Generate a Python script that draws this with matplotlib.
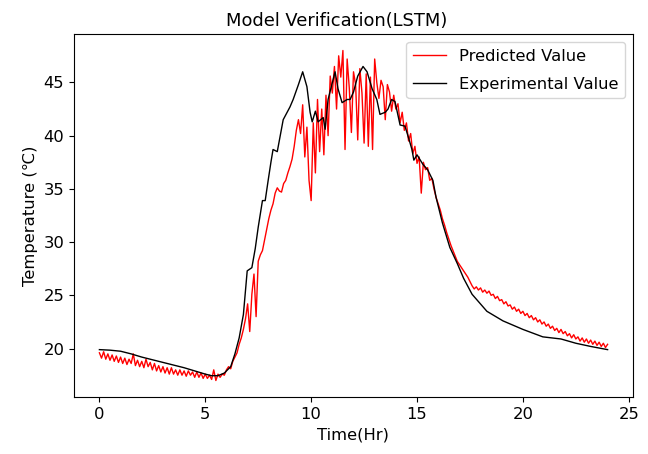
import numpy as np
import matplotlib
matplotlib.use("Agg")
import matplotlib.pyplot as plt

# Experimental (measured) temperature, hours vs degC
exp_time = [0, 0.5, 1, 1.5, 2, 2.5, 3, 3.5, 4, 4.5, 5, 5.3, 5.6, 5.9, 6.2, 6.4, 6.6, 6.8,
            6.98, 7.2, 7.36, 7.5, 7.7, 7.83, 7.97, 8.1, 8.2, 8.4, 8.68, 9.0, 9.15, 9.4,
            9.6, 9.8, 9.95, 10.05, 10.2, 10.33, 10.57, 10.66, 10.8, 11.13, 11.27, 11.46,
            11.7, 11.84, 12.0, 12.2, 12.45, 12.64, 12.88, 13.1, 13.25, 13.5, 13.63, 13.8,
            13.96, 14.2, 14.43, 14.6, 14.76, 14.85, 15.0, 15.28, 15.5, 15.75, 15.9, 16.2,
            16.55, 16.9, 17.2, 17.6, 18.3, 19.06, 20.0, 20.94, 21.8, 22.5, 23.2, 24.0]
exp_temp = [19.9, 19.85, 19.75, 19.5, 19.2, 18.95, 18.7, 18.45, 18.2, 17.9, 17.6, 17.45,
            17.45, 17.7, 18.3, 19.5, 21.0, 23.2, 27.3, 27.6, 29.4, 31.4, 33.9, 33.9, 35.8,
            37.5, 38.7, 38.5, 41.5, 42.7, 43.4, 44.8, 46.0, 44.6, 42.2, 41.3, 42.3, 41.3,
            41.7, 40.6, 43.4, 46.0, 44.4, 43.1, 43.4, 43.4, 44.1, 45.6, 46.5, 46.0, 44.4,
            43.4, 42.0, 42.2, 42.5, 43.4, 43.2, 41.0, 40.9, 39.8, 38.7, 37.7, 38.2, 37.3,
            36.8, 35.8, 34.2, 31.8, 29.5, 28.0, 26.6, 25.1, 23.5, 22.6, 21.8, 21.1, 20.9,
            20.5, 20.2, 19.9]

# Predicted (LSTM) temperature, one value every 0.1 h from 0 to 24 h
pred_temp = [
    19.6, 19.1, 19.7, 19.0, 19.5, 18.9, 19.4, 18.8, 19.3, 18.7,
    19.2, 18.6, 19.1, 18.5, 19.0, 18.6, 19.5, 18.4, 18.9, 18.3,
    18.8, 18.2, 19.0, 18.3, 18.7, 18.0, 18.6, 17.9, 18.4, 17.8,
    18.3, 17.7, 18.2, 17.6, 18.2, 17.6, 18.0, 17.5, 18.0, 17.5,
    17.9, 17.4, 17.9, 17.5, 17.8, 17.3, 17.8, 17.3, 17.7, 17.2,
    17.6, 17.2, 17.5, 17.1, 18.0, 17.0, 17.6, 17.3, 17.6, 17.5,
    18.0, 18.3, 18.1, 18.8, 19.2, 19.6, 20.4, 21.0, 21.8, 22.8,
    24.2, 21.6, 25.1, 27.0, 23.0, 28.2, 28.8, 29.2, 30.2, 31.2,
    32.2, 33.0, 33.6, 34.6, 35.1, 34.8, 34.7, 35.5, 35.8, 36.5,
    37.1, 37.8, 39.0, 40.5, 41.5, 40.2, 42.9, 38.0, 40.8, 35.8,
    33.9, 41.2, 36.5, 43.4, 38.5, 42.5, 38.2, 43.8, 40.0, 45.6,
    44.0, 46.5, 42.5, 47.5, 45.5, 48.0, 38.7, 47.2, 44.5, 40.3,
    46.0, 44.8, 39.6, 46.3, 44.0, 39.3, 45.8, 39.0, 45.5, 38.7,
    47.2, 45.0, 43.5, 45.2, 44.6, 41.5, 44.8, 44.1, 42.3, 43.8,
    42.5, 43.0, 41.2, 42.2, 40.5, 41.2, 39.5, 40.2, 38.3, 39.0,
    37.4, 38.0, 34.6, 37.5, 36.8, 37.0, 35.8, 36.0, 35.0, 34.2,
    33.6, 33.0, 32.2, 31.6, 30.9, 30.3, 29.7, 29.2, 28.7, 28.2,
    27.9, 27.6, 27.3, 27.0, 26.7, 26.3, 25.9, 25.6, 25.8, 25.5,
    25.7, 25.3, 25.5, 25.2, 25.4, 25.0, 25.1, 24.7, 24.9, 24.5,
    24.6, 24.2, 24.4, 24.0, 24.1, 23.7, 23.9, 23.5, 23.7, 23.3,
    23.5, 23.1, 23.3, 22.9, 23.1, 22.7, 22.9, 22.5, 22.7, 22.3,
    22.5, 22.1, 22.3, 21.9, 22.1, 21.7, 21.9, 21.5, 21.8, 21.4,
    21.6, 21.2, 21.4, 21.0, 21.3, 20.9, 21.1, 20.7, 21.0, 20.6,
    20.9, 20.5, 20.8, 20.4, 20.7, 20.3, 20.6, 20.2, 20.5, 20.1,
    20.4]
pred_time = np.linspace(0, 24, len(pred_temp))

plt.rcParams["font.size"] = 11.8

fig = plt.figure(figsize=(6.48, 4.54), dpi=100)
ax = fig.add_axes([74/648, 1 - 397/454, (633 - 74)/648, (397 - 34)/454])
ax.plot(pred_time, pred_temp, color="red", linewidth=1, label="Predicted Value")
ax.plot(exp_time, exp_temp, color="black", linewidth=1, label="Experimental Value")
ax.set_title("Model Verification(LSTM)", fontsize=12.9, x=0.47)
ax.set_xlabel("Time(Hr)")
ax.set_ylabel("Temperature (℃)")
ax.set_xticks([0, 5, 10, 15, 20, 25])
ax.set_yticks([20, 25, 30, 35, 40, 45])
ax.legend(loc="upper right", labelspacing=0.8)
fig.savefig("out.png", dpi=100)
